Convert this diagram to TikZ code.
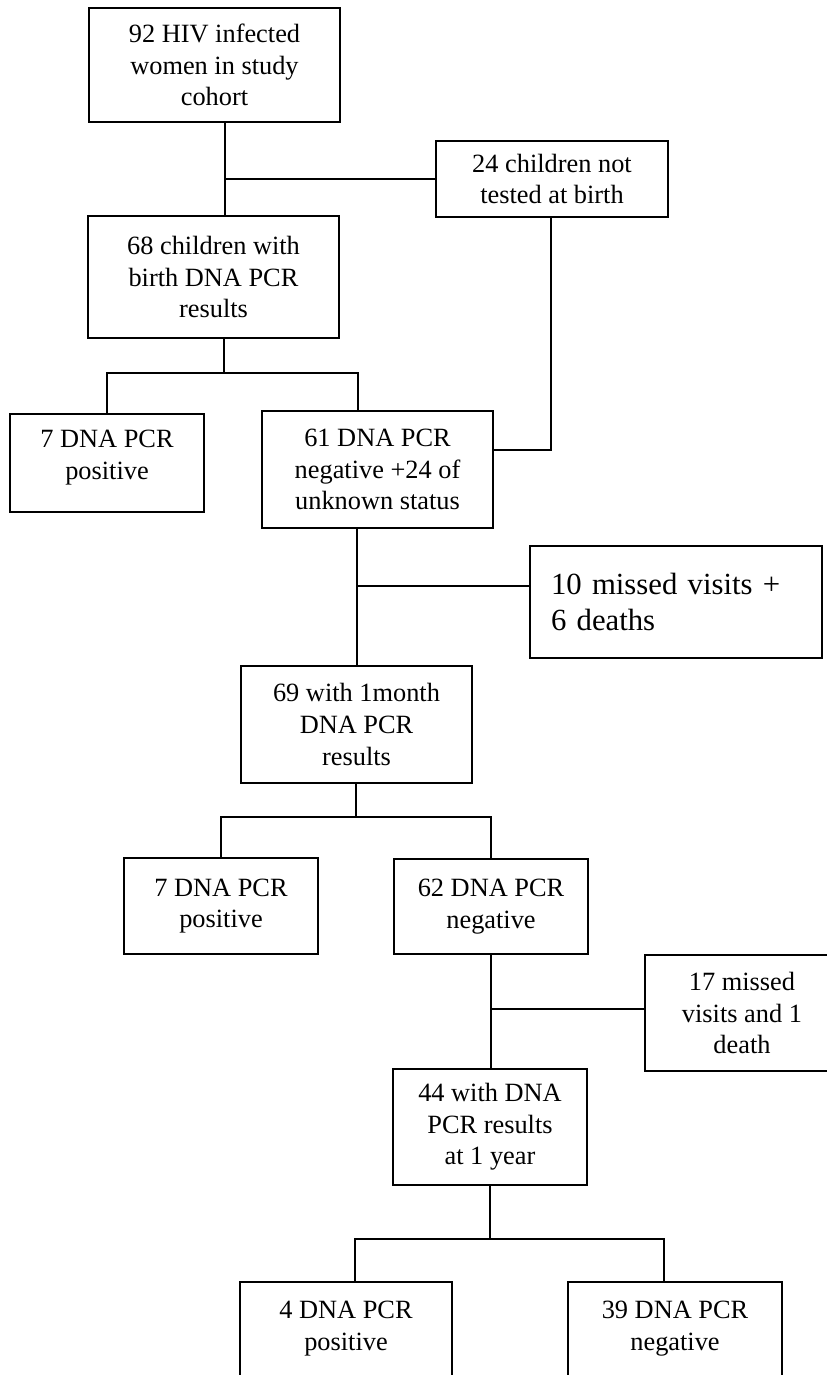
\documentclass[tikz,border=0pt]{standalone}
\usepackage{fontspec}
\setmainfont{Liberation Serif}
\begin{document}
\begin{tikzpicture}[x=0.02cm, y=-0.02cm,
  stage/.style={shape=rectangle, draw=black, line width=1.1pt, align=center,
    font=\fontsize{15}{18}\selectfont, inner sep=2pt},
  link/.style={-, line width=1pt, draw=black}]
\clip (0,0) rectangle (827,1375);
% boxes
\node[stage, minimum width=5.02cm, minimum height=2.28cm] (cohort) at (214.5,65) {92 HIV infected\\women in study\\cohort};
\node[stage, minimum width=4.64cm, minimum height=1.52cm] (nottested) at (552,179) {24 children not\\tested at birth};
\node[stage, minimum width=5.02cm, minimum height=2.44cm] (birth) at (213.5,277) {68 children with\\birth DNA PCR\\results};
\node[stage, minimum width=3.88cm, minimum height=1.96cm, text depth=9.5pt] (pos0) at (107,463) {7 DNA PCR\\positive};
\node[stage, minimum width=4.62cm, minimum height=2.34cm] (neg0) at (377.5,469.5) {61 DNA PCR\\negative +24 of\\unknown status};
\node[stage, minimum width=5.84cm, minimum height=2.24cm, align=left, text width=5.0cm,
  inner xsep=0.42cm, font=\fontsize{17.5}{21}\selectfont] (missed1) at (676,602) {10 missed visits +\\6 deaths\\[-13pt]};
\node[stage, minimum width=4.62cm, minimum height=2.34cm] (month) at (356.5,724.5) {69 with 1month\\DNA PCR\\results};
\node[stage, minimum width=3.88cm, minimum height=1.92cm] (pos1) at (221,906) {7 DNA PCR\\positive};
\node[stage, minimum width=3.88cm, minimum height=1.90cm] (neg1) at (491,906.5) {62 DNA PCR\\negative};
\node[stage, minimum width=3.88cm, minimum height=2.32cm] (missed2) at (742,1013) {17 missed\\visits and 1\\death};
\node[stage, minimum width=3.88cm, minimum height=2.32cm] (year) at (490,1127) {44 with DNA\\PCR results\\at 1 year};
\node[stage, minimum width=4.24cm, minimum height=2.32cm] (pos2) at (346,1340) {4 DNA PCR\\positive\\[-2pt]};
\node[stage, minimum width=4.28cm, minimum height=2.32cm] (neg2) at (675,1340) {39 DNA PCR\\negative\\[-2pt]};
% junction points
\coordinate (j1) at (225,179);
\coordinate (b1) at (224,373);
\coordinate (j2) at (357,586);
\coordinate (b2) at (356,817);
\coordinate (j3) at (491,1009);
\coordinate (b3) at (490,1239);
\coordinate (k1) at (551,450);
% connectors
\draw[link] (cohort.south -| j1) -- (birth.north -| j1);
\draw[link] (j1) -- (nottested.west);
\draw[link] (birth.south -| b1) -- (b1);
\draw[link] (pos0.north) |- (b1) -| ([xshift=-0.39cm]neg0.north);
\draw[link] (nottested.south -| k1) -- (k1) -- (neg0.east |- k1);
\draw[link] (neg0.south -| j2) -- (month.north -| j2);
\draw[link] (j2) -- (missed1.west |- j2);
\draw[link] (month.south -| b2) -- (b2);
\draw[link] (pos1.north) |- (b2) -| (neg1.north);
\draw[link] (neg1.south) -- (year.north -| j3);
\draw[link] (j3) -- (missed2.west |- j3);
\draw[link] (year.south) -- (b3);
\draw[link] ([xshift=0.18cm]pos2.north) |- (b3) -| ([xshift=-0.22cm]neg2.north);
\end{tikzpicture}
\end{document}
